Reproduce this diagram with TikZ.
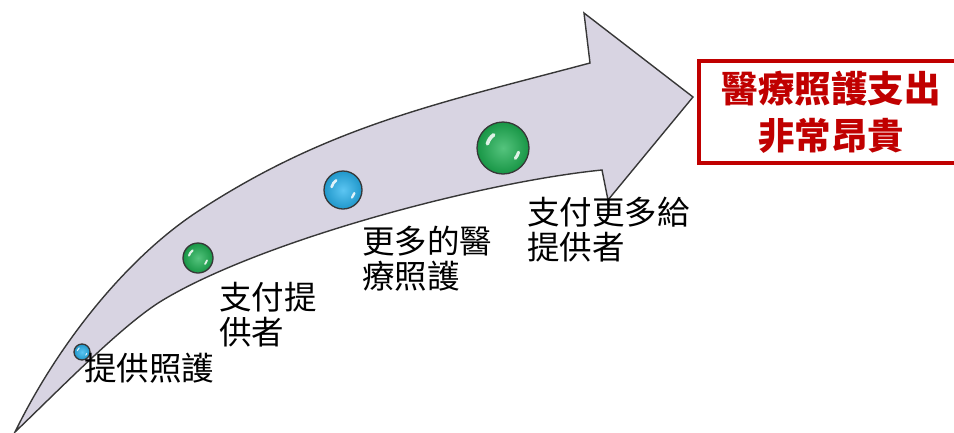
\documentclass[tikz,border=0pt]{standalone}
\usepackage{fontspec}
\newfontfamily\cjk{Noto Sans CJK TC}
\definecolor{arrowfill}{RGB}{216,212,226}
\definecolor{edgegray}{RGB}{55,55,55}
\definecolor{boxred}{RGB}{192,0,0}
\definecolor{ballgreen}{RGB}{28,176,82}
\definecolor{ballblue}{RGB}{38,178,238}
\tikzset{
  ballnode/.style={circle, draw=edgegray, line width=1.3pt, inner sep=0pt},
  steplabel/.style={anchor=west, align=left, inner sep=0pt, text=black,
    font=\cjk\fontsize{32.5}{35}\selectfont},
  resultbox/.style={draw=boxred, line width=4pt, anchor=north west, text=boxred,
    align=center, inner sep=0pt, font=\cjk\bfseries\fontsize{36.5}{47}\selectfont}
}
\begin{document}
\begin{tikzpicture}[x=1pt,y=-1pt]
\useasboundingbox (0,0) rectangle (954,432);
% curved arrow
\filldraw[fill=arrowfill, draw=edgegray, line width=1.4pt, line join=miter]
  (15,432) .. controls (60,340) and (130,255) .. (200,210)
  .. controls (330,125.5) and (440,103) .. (590,63)
  -- (584,13) -- (693,97) -- (608,200) -- (602,170)
  .. controls (482,182) and (263,240) .. (163,300)
  .. controls (123,324) and (60,389) .. (15,432)
  -- cycle;
% balls
\foreach \n/\x/\y/\r/\c in {b1/82/352/8/ballblue, b2/198/258/15/ballgreen, b3/343/190/19/ballblue, b4/503/148/26/ballgreen}{
  \node[ballnode, minimum size=2*\r pt, inner color=\c!75!white, outer color=\c!85!black] (\n) at (\x,\y) {};
  \draw[white, opacity=0.85, line width=0.14*\r pt, line cap=round]
    (\n.center) ++(125:{0.62*\r pt}) arc[start angle=125, end angle=165, radius={0.62*\r pt}];
  \draw[white, opacity=0.85, line width=0.12*\r pt, line cap=round]
    (\n.center) ++(-40:{0.62*\r pt}) arc[start angle=-40, end angle=-15, radius={0.62*\r pt}];
}
% labels
\node[steplabel] (l1) at (84,368) {提供照護};
\node[steplabel] (l2) at (219,314.5) {支付提\\供者};
\node[steplabel] (l3) at (362,258.5) {更多的醫\\療照護};
\node[steplabel] (l4) at (527,229.5) {支付更多給\\提供者};
% result box
\node[resultbox, minimum width=264pt, minimum height=102pt] (box) at (697,59) {醫療照護支出\\非常昂貴};
\end{tikzpicture}
\end{document}
